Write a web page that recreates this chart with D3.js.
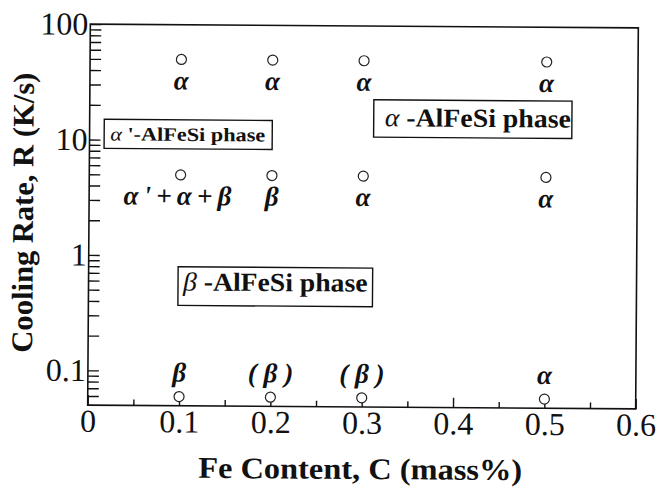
<!DOCTYPE html>
<html>
<head>
<meta charset="utf-8">
<script src="https://cdn.jsdelivr.net/npm/d3@7"></script>
<style>
  html, body { margin: 0; padding: 0; background: #fff; }
  svg { display: block; }
</style>
</head>
<body>
<svg id="chart" width="660" height="499" font-family="Liberation Serif, serif"></svg>
<script>
// Fe content of the alloys (mass%) and cooling rates tested (K/s)
const feContent = [0.1, 0.2, 0.3, 0.5];
const rateFast = [50, 50, 50, 50];
const rateMedium = [5, 5, 5, 5];
const rateSlow = [0.06, 0.06, 0.06, 0.06];

// Phases observed at each condition
const phasesFast = ["α", "α", "α", "α"];
const phasesMedium = ["α'+α+β", "β", "α", "α"];
const phasesSlow = ["β", "( β )", "( β )", "α"];

// Axis ticks
const xTicks = [0, 0.1, 0.2, 0.3, 0.4, 0.5, 0.6];
const xTickLabels = ["0", "0.1", "0.2", "0.3", "0.4", "0.5", "0.6"];
const xMinorTicks = [0.05, 0.15, 0.25, 0.35, 0.45, 0.55];
const yTicks = [0.1, 1, 10, 100];
const yTickLabels = ["0.1", "1", "10", "100"];

// Phase-region captions: Greek symbol, remaining text, box extent in data units
const regionGreek = ["α", "α", "β"];
const regionText = [" '-AlFeSi phase", " -AlFeSi phase", " -AlFeSi phase"];
const regionC = [[0.016, 0.2], [0.311, 0.528], [0.098, 0.311]];
const regionR = [[15, 8.4], [23, 10.9], [0.8, 0.37]];

const FONT = "Liberation Serif";

const svg = d3.select("#chart");
const g = svg.append("g").attr("transform", "rotate(0.4, 363, 216)");

const x = d3.scaleLinear().domain([0, 0.6]).range([89, 637]);
const y = d3.scaleLog().domain([0.05, 100]).range([407, 26]);

function styleAxis(a) {
  a.attr("font-family", FONT).attr("font-size", 32);
  a.select(".domain").remove();
  a.selectAll("line").attr("stroke", "#111").attr("stroke-width", 1.4);
  a.selectAll("text").attr("fill", "#111");
}

// Minor ticks on the bottom axis
g.append("g")
  .attr("transform", `translate(0,${y.range()[0]})`)
  .call(d3.axisBottom(x).tickValues(xMinorTicks).tickSize(-6).tickFormat(() => ""))
  .call(styleAxis);

// Major ticks and labels on the bottom axis
g.append("g")
  .attr("transform", `translate(0,${y.range()[0]})`)
  .call(d3.axisBottom(x).tickValues(xTicks).tickSize(-10).tickPadding(4)
        .tickFormat((d, i) => xTickLabels[i]))
  .call(styleAxis);

// Minor ticks on the logarithmic rate axis
const yMinor = y.ticks().filter(v => !yTicks.some(t => Math.abs(t - v) / t < 1e-6) && v > 0.051);
g.append("g")
  .attr("transform", `translate(${x.range()[0]},0)`)
  .call(d3.axisLeft(y).tickValues(yMinor).tickSize(-11).tickFormat(() => ""))
  .call(styleAxis);

// Labelled decades on the rate axis
g.append("g")
  .attr("transform", `translate(${x.range()[0]},0)`)
  .call(d3.axisLeft(y).tickValues(yTicks).tickSize(-11).tickPadding(2)
        .tickFormat((d, i) => yTickLabels[i]))
  .call(styleAxis);

// Plot frame
g.append("rect")
  .attr("x", x.range()[0]).attr("y", y.range()[1])
  .attr("width", x.range()[1] - x.range()[0])
  .attr("height", y.range()[0] - y.range()[1])
  .attr("fill", "none").attr("stroke", "#111").attr("stroke-width", 1.6);

// Phase-region captions in boxes
regionGreek.forEach((sym, i) => {
  const x0 = x(regionC[i][0]), x1 = x(regionC[i][1]);
  const y0 = y(regionR[i][0]), y1 = y(regionR[i][1]);
  const small = i === 0;
  g.append("rect")
    .attr("x", x0).attr("y", y0).attr("width", x1 - x0).attr("height", y1 - y0)
    .attr("fill", "#fff").attr("stroke", "#111").attr("stroke-width", 1.4);
  const padL = small ? 6 : (i === 1 ? 11 : 5);
  const padR = small ? 7 : (i === 1 ? 1 : 5);
  const t = g.append("text")
    .attr("x", x0 + padL)
    .attr("y", small ? y1 - 8 : y1 - (i === 1 ? 11 : 15))
    .attr("font-family", FONT)
    .attr("font-size", small ? 19 : 26)
    .attr("fill", "#111")
    .attr("textLength", x1 - x0 - padL - padR)
    .attr("lengthAdjust", "spacingAndGlyphs");
  t.append("tspan").attr("font-style", "italic").text(sym);
  t.append("tspan").attr("font-weight", "bold").text(regionText[i]);
});

// Sample points and the phases found in each
const rows = [
  { rates: rateFast, labels: phasesFast, dy: 30 },
  { rates: rateMedium, labels: phasesMedium, dy: 30 },
  { rates: rateSlow, labels: phasesSlow, dy: -15 }
];

rows.forEach(row => {
  const pts = feContent.map((c, i) => ({ c, r: row.rates[i], label: row.labels[i] }));
  g.selectAll(null).data(pts).enter().append("circle")
    .attr("cx", d => x(d.c)).attr("cy", d => y(d.r)).attr("r", 5)
    .attr("fill", "#fff").attr("stroke", "#222").attr("stroke-width", 1.2);
  g.selectAll(null).data(pts).enter().append("text")
    .attr("x", d => x(d.c) + (d.label.length > 5 ? -3 : 0))
    .attr("y", d => y(d.r) + row.dy)
    .attr("text-anchor", "middle")
    .attr("font-family", FONT)
    .attr("font-size", 27)
    .attr("font-style", "italic")
    .attr("font-weight", "bold")
    .attr("fill", "#111")
    .each(function (d) {
      if (d.label.length > 5) {
        d3.select(this).attr("textLength", 108).attr("lengthAdjust", "spacing");
      }
    })
    .text(d => d.label);
});

// Axis titles
g.append("text")
  .attr("x", 362).attr("y", 479)
  .attr("text-anchor", "middle")
  .attr("font-family", FONT).attr("font-size", 30).attr("font-weight", "bold")
  .attr("fill", "#111")
  .attr("textLength", 324).attr("lengthAdjust", "spacingAndGlyphs")
  .text("Fe Content, C (mass%)");

g.append("text")
  .attr("transform", "translate(33,215) rotate(-90)")
  .attr("text-anchor", "middle")
  .attr("font-family", FONT).attr("font-size", 30).attr("font-weight", "bold")
  .attr("fill", "#111")
  .attr("textLength", 280).attr("lengthAdjust", "spacingAndGlyphs")
  .text("Cooling Rate, R (K/s)");
</script>
</body>
</html>
